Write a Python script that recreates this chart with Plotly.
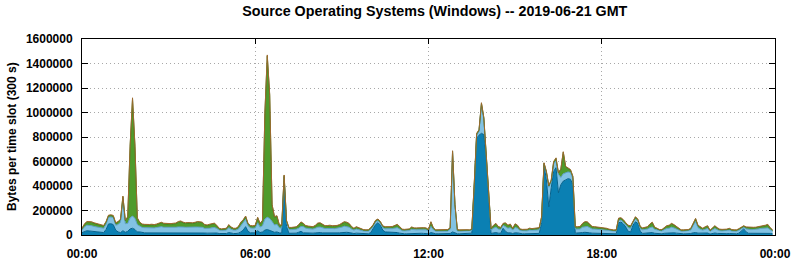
import plotly.graph_objects as go

# 288 five-minute slots (00:00 .. 23:55), values in thousands of bytes
slot_minutes = list(range(0, 1440, 5))

dark_k = [
    19,28,35,33,30,28,27,25,22,20,45,90,
    92,85,40,25,20,35,22,30,50,55,45,25,
    25,20,18,17,17,18,16,18,20,22,19,18,
    18,17,18,19,20,21,20,19,20,18,19,20,
    20,20,19,16,15,16,17,18,16,12,11,11,
    12,20,14,12,12,15,25,40,68,30,18,17,
    18,35,20,25,40,45,40,30,22,25,18,15,
    440,70,14,14,14,15,22,30,18,16,16,16,
    15,17,20,20,17,16,16,17,16,16,17,18,
    20,24,22,20,15,12,15,13,11,10,10,10,
    20,50,85,100,80,40,25,24,24,22,20,20,
    15,11,10,10,11,14,13,13,13,14,13,13,
    10,20,13,10,10,10,10,10,10,12,25,15,
    10,10,10,10,10,10,15,380,790,815,830,820,
    630,300,12,17,20,15,14,55,30,17,18,12,
    18,17,11,10,10,10,12,11,12,12,13,100,
    570,450,230,385,520,550,345,410,440,450,460,455,
    410,15,15,15,20,22,22,18,15,15,14,13,
    12,12,12,11,10,10,10,100,105,90,65,30,
    25,80,108,95,30,13,14,15,18,20,14,12,
    10,10,14,16,17,20,18,15,12,10,10,10,
    10,12,18,20,15,14,12,15,16,8,12,16,
    13,11,10,10,11,12,10,10,10,15,35,50,
    25,14,14,14,14,15,16,16,17,18,13,10,
]

light_k = [
    22,38,45,47,46,42,40,40,38,35,42,55,
    55,57,40,60,85,260,70,65,90,100,90,60,
    48,42,42,41,42,42,42,43,45,46,44,44,
    44,43,44,44,46,47,45,44,45,44,44,45,
    45,44,44,38,37,39,42,43,38,28,26,26,
    28,40,32,28,28,34,50,55,60,45,40,38,
    40,65,45,50,90,100,95,80,60,62,42,40,
    35,35,30,30,30,32,33,40,50,40,36,35,
    33,38,44,45,40,37,37,38,37,36,37,40,
    44,48,47,44,34,28,33,30,24,23,22,22,
    25,20,20,17,17,20,26,26,27,30,36,40,
    34,24,24,23,25,32,29,29,30,30,30,29,
    23,50,30,21,21,22,22,20,22,35,650,220,
    22,21,22,21,22,21,22,25,25,30,235,125,
    35,25,28,38,44,34,30,25,40,38,42,28,
    43,38,26,24,24,24,28,27,28,28,30,34,
    10,55,160,50,60,55,150,60,60,55,55,55,
    50,33,33,34,44,48,48,42,34,33,32,30,
    28,28,28,24,21,20,21,18,16,15,17,30,
    30,22,22,18,22,29,32,33,42,45,32,28,
    23,23,30,37,38,44,40,34,28,21,21,22,
    23,28,60,90,45,32,28,33,37,22,28,37,
    30,24,24,24,24,28,23,21,21,24,16,12,
    25,31,30,31,31,34,37,37,38,40,30,21,
]

green_k = [
    10,20,25,27,27,25,23,22,20,18,18,12,
    13,13,15,20,20,18,25,50,585,955,590,50,
    27,23,22,22,22,23,22,24,30,31,28,27,
    28,28,29,30,38,41,35,32,32,31,32,34,
    40,39,37,26,25,28,31,31,21,11,9,9,
    11,20,15,11,11,17,25,25,22,15,15,15,
    17,40,25,40,860,1315,1005,135,63,66,20,20,
    10,10,14,14,15,16,23,32,22,17,17,18,
    16,20,29,30,23,19,20,20,19,18,19,22,
    26,32,31,26,17,11,16,13,9,8,7,8,
    11,11,11,10,9,11,13,12,13,14,18,22,
    17,9,8,8,10,16,12,12,13,14,13,12,
    8,34,13,8,8,9,8,8,9,9,9,11,
    8,8,9,8,8,8,9,10,10,10,10,10,
    10,10,11,20,26,17,14,11,25,20,25,11,
    26,20,9,8,9,9,12,10,11,12,13,12,
    6,10,10,10,15,20,10,65,175,50,25,20,
    15,16,16,17,26,34,33,25,17,16,16,13,
    12,11,11,9,8,8,8,15,15,15,13,15,
    16,13,15,12,14,12,16,16,25,35,15,11,
    8,8,14,19,20,26,22,17,11,8,8,8,
    8,11,17,21,15,16,11,16,19,6,11,19,
    13,9,8,8,9,11,8,8,8,9,10,10,
    12,14,14,14,15,17,19,19,20,24,13,8,
]

other_k = [
    4,4,5,5,5,5,5,5,5,5,5,5,
    5,5,5,5,5,5,5,5,10,10,10,5,
    5,5,5,5,5,5,5,5,5,5,5,5,
    5,5,5,5,6,6,5,5,5,5,5,5,
    5,5,5,5,5,5,5,5,5,4,4,4,
    4,5,4,4,4,4,5,5,5,5,5,5,
    5,5,5,5,10,10,10,5,5,5,5,5,
    5,5,4,4,4,4,5,5,5,4,4,4,
    4,5,5,5,5,4,4,5,4,4,5,5,
    5,5,5,5,4,4,4,4,4,3,3,3,
    4,4,4,4,4,4,4,4,4,4,4,5,
    4,4,4,4,4,4,4,4,4,4,4,4,
    4,5,4,3,3,3,3,3,4,4,4,4,
    4,3,3,3,3,3,4,5,5,5,5,5,
    5,5,4,5,5,4,4,4,5,5,5,4,
    5,5,4,4,4,4,4,4,4,4,4,4,
    4,5,5,5,5,5,5,5,5,5,5,5,
    5,4,4,4,5,5,5,5,4,4,4,4,
    4,4,4,4,3,3,3,5,5,5,5,5,
    4,5,5,5,4,4,4,4,5,5,4,4,
    4,4,4,4,5,5,5,4,4,3,3,3,
    4,4,5,5,5,4,4,4,4,3,4,4,
    4,4,4,4,4,4,4,3,3,4,4,4,
    4,4,4,4,4,4,4,4,5,5,4,3,
]

x_tick_vals = [0, 360, 720, 1080, 1440]
x_tick_text = ["00:00", "06:00", "12:00", "18:00", "00:00"]
y_tick_vals = [0, 200000, 400000, 600000, 800000, 1000000, 1200000, 1400000, 1600000]

layers = [
    ("dark", dark_k, "#0b80b3", "#06628c"),
    ("light", light_k, "#82c2e3", "#5c9fc6"),
    ("green", green_k, "#4f9b2b", "#3c7d1f"),
    ("other", other_k, "#c98232", "#9c6a2e"),
]

FONT = "Liberation Sans, Arial, sans-serif"
fig = go.Figure()
for name, vals, fillc, linec in layers:
    fig.add_trace(go.Scatter(
        x=slot_minutes, y=[v * 1000 for v in vals], name=name,
        mode="lines", stackgroup="one", fillcolor=fillc,
        line=dict(color=linec, width=1), showlegend=False, hoverinfo="skip",
    ))

fig.update_layout(
    width=795, height=260,
    margin=dict(l=82, r=20, t=39, b=25),
    paper_bgcolor="white", plot_bgcolor="white",
    font=dict(family=FONT, size=12, color="black"),
    title=dict(text="Source Operating Systems (Windows) -- 2019-06-21 GMT",
               font=dict(family=FONT, size=14.3, color="black", weight="bold"),
               xref="paper", x=0.509, xanchor="center",
               yref="container", y=1 - 11 / 260, yanchor="middle"),
    showlegend=False,
)
fig.update_xaxes(
    range=[0, 1440], tickvals=x_tick_vals, ticktext=x_tick_text, automargin=False,
    ticks="inside", ticklen=5, tickcolor="black", showline=True, linecolor="black",
    linewidth=1, mirror="ticks", showgrid=True, gridcolor="#a8a8a8", griddash="1px,3px",
    gridwidth=1, zeroline=False, tickfont=dict(family=FONT, size=12, color="black", weight="bold"),
    ticklabelstandoff=8,
)
fig.update_yaxes(
    range=[0, 1600000], tickvals=y_tick_vals, tickformat="d", automargin=False,
    ticks="inside", ticklen=6, tickcolor="black", showline=True, linecolor="black",
    linewidth=1, mirror="ticks", showgrid=True, gridcolor="#a8a8a8", griddash="1px,3px",
    gridwidth=1, zeroline=False, tickfont=dict(family=FONT, size=12, color="black", weight="bold"),
    ticklabelstandoff=6,
)
fig.add_annotation(
    text="Bytes per time slot (300 s)", textangle=-90,
    xref="paper", yref="paper", x=(12 - 82) / 693, y=0.5,
    xanchor="center", yanchor="middle", showarrow=False,
    font=dict(family=FONT, size=12, color="black", weight="bold"),
)

fig.write_html("out.html")
